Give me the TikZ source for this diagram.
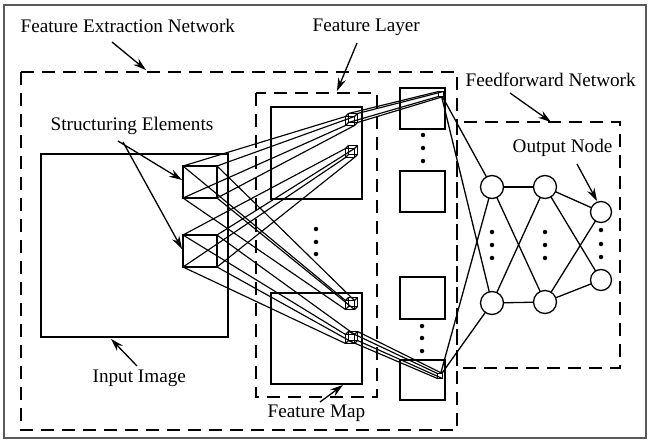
\documentclass[tikz,border=0pt]{standalone}
\usepackage{fontspec}
\setmainfont{Liberation Serif}
\usetikzlibrary{arrows.meta}
\begin{document}
\begin{tikzpicture}[x=1pt,y=-1pt,
  line width=1.3pt,
  lbl/.style={anchor=base west, inner sep=0pt, font=\fontsize{19.2}{23}\selectfont},
  dbox/.style={draw, dash pattern=on 13pt off 8pt, line width=1.3pt},
  sqr/.style={draw, rectangle, inner sep=0pt, outer sep=0pt},
  ray/.style={line width=1.15pt},
  neuron/.style={draw, circle, inner sep=0pt, outer sep=0pt, minimum size=23pt},
  neuronsm/.style={neuron, minimum size=21pt},
  arr/.style={-{Stealth[length=13pt,width=8pt]}, line width=1.3pt},
  vdot/.style={fill, circle, inner sep=0pt, minimum size=4.5pt}
]
\useasboundingbox (0,0) rectangle (650,441);
% outer frame
\draw[black!65, line width=1.8pt] (4,5) rectangle (646,438);

% dashed groups
\draw[dbox] (21,72) rectangle (457,430);
\draw[dbox] (256,93) rectangle (377,397);
\draw[dbox] (457,122) rectangle (620,368);

% labels
\node[lbl] (tfen) at (20,33) {Feature Extraction Network};
\node[lbl] (tfl) at (312,32) {Feature Layer};
\node[lbl] (tffn) at (465,87) {Feedforward Network};
\node[lbl] (ton) at (512,152) {Output Node};
\node[lbl] (tse) at (50,130) {Structuring Elements};
\node[lbl] (tii) at (92,382) {Input Image};
\node[lbl] (tfm) at (267,417) {Feature Map};

% input image and feature maps
\node[sqr, minimum width=187pt, minimum height=183pt] (img) at (134.5,245.5) {};
\node[sqr, minimum width=91pt, minimum height=92pt] (fm1) at (316.5,153) {};
\node[sqr, minimum width=91pt, minimum height=91pt] (fm2) at (316.5,338.5) {};

% feature layer squares
\node[sqr, minimum width=45pt, minimum height=41pt] (s1) at (422.5,108.5) {};
\node[sqr, minimum width=45pt, minimum height=41pt] (s2) at (422.5,191.5) {};
\node[sqr, minimum width=45pt, minimum height=42pt] (s3) at (422.5,298) {};
\node[sqr, minimum width=45pt, minimum height=40pt] (s4) at (422.5,380) {};

% structuring elements
\node[sqr, minimum width=34pt, minimum height=32pt] (ea) at (200,182) {};
\node[sqr, minimum width=34pt, minimum height=32pt] (eb) at (200,251) {};

% target cubes (front / back)
\node[sqr, minimum size=9pt] (ta1f) at (350,121) {};
\node[sqr, minimum size=9pt] (ta1b) at (353,118) {};
\node[sqr, minimum size=9pt] (tb1f) at (350,153) {};
\node[sqr, minimum size=9pt] (tb1b) at (353,150) {};
\node[sqr, minimum size=9pt] (ta2f) at (350,305) {};
\node[sqr, minimum size=9pt] (ta2b) at (353,302) {};
\node[sqr, minimum size=9pt] (tb2f) at (350,339) {};
\node[sqr, minimum size=9pt] (tb2b) at (353,336) {};
% convergence points
\node[sqr, minimum size=5pt] (p1) at (441,94) {};
\node[sqr, minimum size=5pt] (p2) at (440,376) {};

\foreach \a in {north west,north east,south west,south east}{
  \draw[ray] (ea.\a) -- (ta1f.\a);
  \draw[ray] (ea.\a) -- (ta2f.\a);
  \draw[ray] (eb.\a) -- (tb1f.\a);
  \draw[ray] (eb.\a) -- (tb2f.\a);
  \draw[ray] (ta1f.\a) -- (ta1b.\a);
  \draw[ray] (tb1f.\a) -- (tb1b.\a);
  \draw[ray] (ta2f.\a) -- (ta2b.\a);
  \draw[ray] (tb2f.\a) -- (tb2b.\a);
  \draw[ray] (ta1b.\a) -- (p1.\a);
  \draw[ray] (tb2b.\a) -- (p2.\a);
}

% neurons
\node[neuron] (c1t) at (492,187) {};
\node[neuron] (c1b) at (492,303) {};
\node[neuron] (c2t) at (545,187) {};
\node[neuron] (c2b) at (545,302) {};
\node[neuronsm] (c3t) at (601,212) {};
\node[neuronsm] (c3b) at (601,280) {};

\draw (p1) -- (c1t);
\draw (p1) -- (c1b);
\draw (p2) -- (c1t);
\draw (p2) -- (c1b);
\foreach \u in {c1t,c1b}{\foreach \v in {c2t,c2b}{\draw (\u) -- (\v);}}
\foreach \u in {c2t,c2b}{\foreach \v in {c3t,c3b}{\draw (\u) -- (\v);}}

% dots
\foreach \y in {229,242,254} \node[vdot] at (316,\y) {};
\foreach \y in {135,148,161} \node[vdot] at (423,\y) {};
\foreach \y in {326,338,351} \node[vdot] at (422,\y) {};
\foreach \y in {232,245,258} {\node[vdot] at (492,\y) {}; \node[vdot] at (545,\y) {};}
\foreach \y in {230,244,257} \node[vdot] at (601,\y) {};

% arrows
\coordinate (afen0) at (112,42);  \coordinate (afen1) at (146,70);
\coordinate (afl0) at (357,43);   \coordinate (afl1) at (337,91);
\coordinate (affn0) at (510,93);  \coordinate (affn1) at (551,122);
\coordinate (aon0) at (577,164);  \coordinate (aon1) at (597,201);
\coordinate (ase0) at (118,141);  \coordinate (ase1) at (182,180);
\coordinate (ase2) at (123,142);  \coordinate (ase3) at (182,249);
\coordinate (aii0) at (137,366);  \coordinate (aii1) at (111,339);
\coordinate (afm0) at (320,402);  \coordinate (afm1) at (343,385);
\draw[arr] (afen0) -- (afen1);
\draw[arr] (afl0) -- (afl1);
\draw[arr] (affn0) -- (affn1);
\draw[arr] (aon0) -- (aon1);
\draw[arr] (ase0) -- (ase1);
\draw[arr] (ase2) -- (ase3);
\draw[arr] (aii0) -- (aii1);
\draw[arr] (afm0) -- (afm1);
\end{tikzpicture}
\end{document}
